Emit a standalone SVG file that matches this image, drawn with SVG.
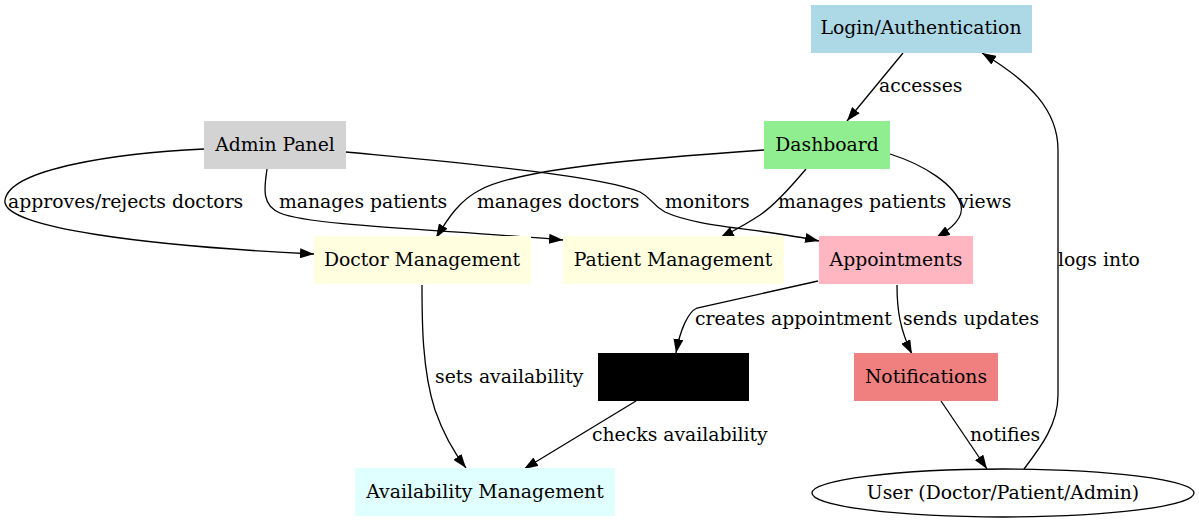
<svg xmlns="http://www.w3.org/2000/svg" width="1199" height="523" viewBox="0 0 1199 523">
<style>
text{font-family:"DejaVu Serif","Liberation Serif",serif;font-size:18.8px;fill:#000}
.n{text-anchor:middle}
.e{fill:none;stroke:#000;stroke-width:1.3;marker-end:url(#ah)}
</style>
<defs>
<marker id="ah" markerUnits="userSpaceOnUse" markerWidth="14" markerHeight="10" viewBox="0 0 14 10" refX="14" refY="5" orient="auto">
<path d="M0,0 L14,5 L0,10 z" fill="#000"/>
</marker>
</defs>
<rect width="1199" height="523" fill="#fff"/>
<g id="connectors">
<path class="e" d="M903,53 L847,121"/>
<path class="e" d="M1024,469 C1040,448 1058,425 1058,395 L1058,150 C1058,110 1030,82 982,53"/>
<path class="e" d="M204,149 C120,153 10,168 5,200 C0,228 150,246 314,254"/>
<path class="e" d="M267,169 C265,185 260,205 280,213 C310,226 450,230 563,240"/>
<path class="e" d="M346,152 C450,162 600,175 640,192 C652,198 652,205 665,212 C700,228 760,228 819,241"/>
<path class="e" d="M764,150 C650,158 520,168 480,190 C460,200 448,218 436,238"/>
<path class="e" d="M806,169 C790,188 775,205 760,215 C745,225 735,230 720,238"/>
<path class="e" d="M890,154 C925,165 955,185 961,205 C964,218 952,228 936,238"/>
<path class="e" d="M422,285 C422,320 422,370 435,410 C442,430 452,450 466,468"/>
<path class="e" d="M636,401 L524,469"/>
<path class="e" d="M818,281 L697,308 C688,312 680,330 676,353"/>
<path class="e" d="M897,285 C897,310 900,330 912,354"/>
<path class="e" d="M941,401 L987,469"/>
<text x="879" y="92">accesses</text>
<text x="1058" y="266">logs into</text>
<text x="8" y="208">approves/rejects doctors</text>
<text x="279" y="208">manages patients</text>
<text x="477" y="208">manages doctors</text>
<text x="665" y="208">monitors</text>
<text x="778" y="208">manages patients</text>
<text x="958" y="208">views</text>
<text x="695" y="325">creates appointment</text>
<text x="903" y="325">sends updates</text>
<text x="435" y="383">sets availability</text>
<text x="592" y="441">checks availability</text>
<text x="970" y="441">notifies</text>
</g>
<g id="login"><rect x="811" y="5" width="221" height="48" fill="#add8e6"/><text class="n" x="921" y="34">Login/Authentication</text></g>
<g id="dashboard"><rect x="764" y="121" width="126" height="48" fill="#90ee90"/><text class="n" x="827" y="151">Dashboard</text></g>
<g id="admin"><rect x="204" y="121" width="142" height="48" fill="#d3d3d3"/><text class="n" x="275" y="151">Admin Panel</text></g>
<g id="doctor-management"><rect x="314" y="236" width="217" height="48" fill="#ffffe0"/><text class="n" x="422" y="266">Doctor Management</text></g>
<g id="patient-management"><rect x="563" y="236" width="221" height="48" fill="#ffffe0"/><text class="n" x="673" y="266">Patient Management</text></g>
<g id="appointments"><rect x="819" y="236" width="154" height="48" fill="#ffb6c1"/><text class="n" x="896" y="266">Appointments</text></g>
<g id="black-node"><rect x="598" y="353" width="151" height="48" fill="#000"/></g>
<g id="notifications"><rect x="854" y="353" width="144" height="48" fill="#f08080"/><text class="n" x="926" y="383">Notifications</text></g>
<g id="availability-management"><rect x="355" y="468" width="260" height="48" fill="#e0ffff"/><text class="n" x="485" y="498">Availability Management</text></g>
<g id="user"><ellipse cx="1003" cy="493" rx="191" ry="24" fill="none" stroke="#000" stroke-width="1.3"/><text class="n" x="1003" y="499">User (Doctor/Patient/Admin)</text></g>
</svg>
